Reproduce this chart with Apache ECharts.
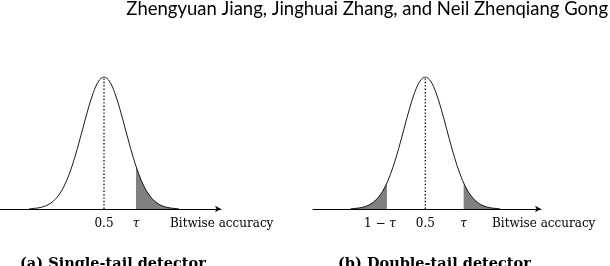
<!DOCTYPE html>
<html>
<head>
<meta charset="utf-8">
<script src="https://cdn.jsdelivr.net/npm/echarts@6/dist/echarts.min.js"></script>
<style>
html,body{margin:0;padding:0;background:#fff;}
#c{width:610px;height:266px;}
</style>
</head>
<body>
<div id="c"></div>
<script>
// Bell curve (relative height vs bitwise accuracy)
const curveX = [0.15,0.175,0.2,0.225,0.25,0.275,0.3,0.325,0.35,0.375,0.4,0.425,0.45,0.475,0.5,0.525,0.55,0.575,0.6,0.625,0.65,0.675,0.7,0.725,0.75,0.775,0.8,0.825,0.85];
const curveY = [0.002,0.005,0.011,0.023,0.044,0.080,0.135,0.216,0.325,0.458,0.607,0.755,0.882,0.969,1.000,0.969,0.882,0.755,0.607,0.458,0.325,0.216,0.135,0.080,0.044,0.023,0.011,0.005,0.002];

// Shaded tail of the single-tail detector (from tau upward)
const shadeAX = [0.65,0.675,0.7,0.725,0.75,0.775,0.8,0.825,0.85];
const shadeAY = [0.325,0.216,0.135,0.080,0.044,0.023,0.011,0.005,0.002];

// Shaded tails of the double-tail detector
const shadeBLeftX = [0.15,0.175,0.2,0.225,0.25,0.275,0.3,0.32];
const shadeBLeftY = [0.002,0.005,0.011,0.023,0.044,0.080,0.135,0.198];
const shadeBRightX = [0.68,0.7,0.725,0.75,0.775,0.8,0.825,0.85];
const shadeBRightY = [0.198,0.135,0.080,0.044,0.023,0.011,0.005,0.002];

// Tick positions and labels
const center = 0.5;
const tauA = 0.65;
const tauB = 0.68;
const oneMinusTauB = 0.32;
const ticksA = [center, tauA];
const ticksB = [oneMinusTauB, center, tauB];
const labelsA = {'0.5':'0.5', '0.65':'{i|τ}'};
const labelsB = {'0.32':'1 − {j|τ}', '0.5':'0.5', '0.68':'{i|τ}'};
const axisName = 'Bitwise accuracy';
const captionA = '(a) Single-tail detector';
const captionB = '(b) Double-tail detector';
const header = 'Zhengyuan Jiang, Jinghuai Zhang, and Neil Zhenqiang Gong';

const zip = (xs, ys) => xs.map((x, i) => [x, ys[i]]);

const serif = 'DejaVu Serif';
const labelRich = {
  i: {fontFamily: serif, fontStyle: 'italic', fontSize: 12, color: '#000'},
  j: {fontFamily: serif, fontStyle: 'italic', fontSize: 12, color: '#000', padding: [0, 14, 0, 0]}
};

function xAxisFor(gridIndex, min, max, ticks, labels, nameGap) {
  return {
    type: 'value', gridIndex, min, max,
    splitLine: {show: false},
    axisTick: {show: false},
    axisLine: {show: true, onZero: false, symbol: ['none', 'arrow'], symbolSize: [5, 6],
      lineStyle: {color: '#000', width: 1}},
    axisLabel: {
      customValues: ticks,
      margin: 9,
      fontFamily: serif, fontSize: 12, color: '#000',
      formatter: v => labels[String(+v.toFixed(2))] || '',
      rich: labelRich
    },
    name: axisName,
    nameLocation: 'end',
    nameGap: nameGap,
    nameTextStyle: {fontFamily: serif, fontSize: 12, color: '#000', align: 'left', verticalAlign: 'top', padding: [9, 0, 0, 0]}
  };
}

function yAxisFor(gridIndex) {
  return {type: 'value', gridIndex, min: 0, max: 1, show: false};
}

const curveStyle = {color: '#000', width: 0.9};
const shade = {color: '#808080', opacity: 1};

function curveSeries(idx) {
  return {type: 'line', xAxisIndex: idx, yAxisIndex: idx, data: zip(curveX, curveY),
    showSymbol: false, smooth: 0.35, lineStyle: curveStyle, z: 3, silent: true};
}
function shadeSeries(idx, xs, ys) {
  return {type: 'line', xAxisIndex: idx, yAxisIndex: idx, data: zip(xs, ys),
    showSymbol: false, smooth: 0.35, lineStyle: {width: 0}, areaStyle: shade, z: 2, silent: true};
}
function dotSeries(idx) {
  return {type: 'line', xAxisIndex: idx, yAxisIndex: idx, data: [[center, 0], [center, 1]],
    showSymbol: false, lineStyle: {color: '#000', width: 1.3, type: [1.4, 2]}, z: 4, silent: true};
}

const chart = echarts.init(document.getElementById('c'), null, {renderer: 'canvas'});
chart.setOption({
  backgroundColor: '#fff',
  animation: false,
  title: [
    {text: header, right: 2, top: 0, padding: 0,
      textStyle: {fontFamily: 'Lato', fontWeight: 'normal', fontSize: 18.5, color: '#000'}},
    {text: captionA, left: 20, top: 257, padding: 0,
      textStyle: {fontFamily: serif, fontWeight: 'bold', fontSize: 14.5, color: '#000'}},
    {text: captionB, left: 338, top: 257, padding: 0,
      textStyle: {fontFamily: serif, fontWeight: 'bold', fontSize: 14.5, color: '#000'}}
  ],
  grid: [
    {left: 0, top: 77, width: 221, height: 132},
    {left: 313, top: 77, width: 228, height: 132}
  ],
  xAxis: [
    xAxisFor(0, 0.012, 1.049, ticksA, labelsA, -51),
    xAxisFor(1, -0.027, 1.043, ticksB, labelsB, -49)
  ],
  yAxis: [yAxisFor(0), yAxisFor(1)],
  series: [
    shadeSeries(0, shadeAX, shadeAY),
    curveSeries(0),
    dotSeries(0),
    shadeSeries(1, shadeBLeftX, shadeBLeftY),
    shadeSeries(1, shadeBRightX, shadeBRightY),
    curveSeries(1),
    dotSeries(1)
  ]
});
</script>
</body>
</html>
